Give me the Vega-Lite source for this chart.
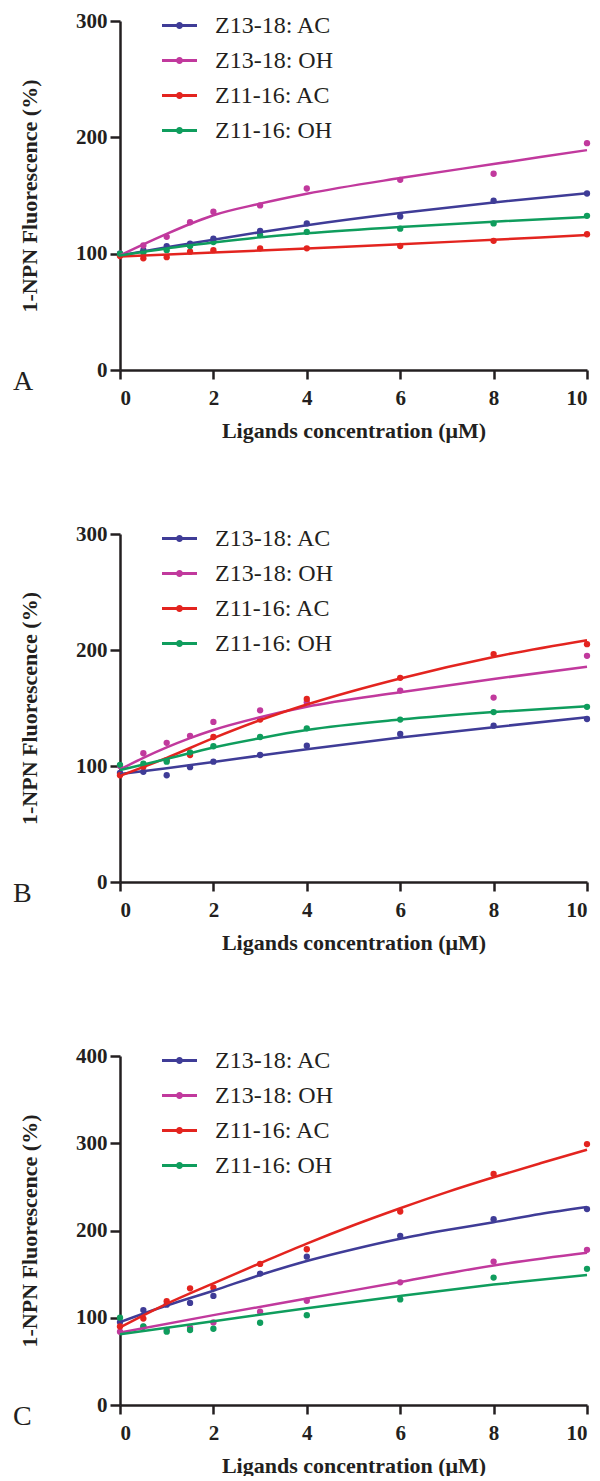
{
  "$schema": "https://vega.github.io/schema/vega-lite/v6.json",
  "background": "white",
  "padding": {"top": 8, "left": 13, "right": 8, "bottom": 0},
  "config": {
    "view": {"stroke": null},
    "axis": {
      "grid": false,
      "domainColor": "#231f20", "domainWidth": 2.5,
      "tickColor": "#231f20", "tickWidth": 2.5, "tickSize": 9,
      "labelFont": "Liberation Serif", "labelFontWeight": "bold", "labelFontSize": 21, "labelColor": "#231f20",
      "titleFont": "Liberation Serif", "titleFontWeight": "bold", "titleFontSize": 22, "titleColor": "#231f20"
    },
    "legend": {
      "orient": "none", "legendX": 42, "legendY": -13,
      "labelFont": "Liberation Serif", "labelFontSize": 24, "labelColor": "#231f20",
      "symbolType": "M-1,-0.086L1,-0.086L1,0.086L-1,0.086Z M0.2,0A0.2,0.2 0 1,1 -0.2,0A0.2,0.2 0 1,1 0.2,0Z",
      "symbolSize": 1225, "symbolStrokeWidth": 0, "labelOffset": 18, "rowPadding": 5
    },
    "title": {"font": "Liberation Serif", "fontSize": 28, "fontWeight": "normal", "color": "#231f20"}
  },
  "datasets": {
    "obs": [
      {"panel": "A", "series": "Z13-18: AC", "conc": 0, "value": 100},
      {"panel": "A", "series": "Z13-18: AC", "conc": 0.5, "value": 103},
      {"panel": "A", "series": "Z13-18: AC", "conc": 1, "value": 106.5},
      {"panel": "A", "series": "Z13-18: AC", "conc": 1.5, "value": 108.5},
      {"panel": "A", "series": "Z13-18: AC", "conc": 2, "value": 113},
      {"panel": "A", "series": "Z13-18: AC", "conc": 3, "value": 119.5},
      {"panel": "A", "series": "Z13-18: AC", "conc": 4, "value": 126},
      {"panel": "A", "series": "Z13-18: AC", "conc": 6, "value": 132},
      {"panel": "A", "series": "Z13-18: AC", "conc": 8, "value": 145.5},
      {"panel": "A", "series": "Z13-18: AC", "conc": 10, "value": 151.7},
      {"panel": "A", "series": "Z13-18: OH", "conc": 0, "value": 100},
      {"panel": "A", "series": "Z13-18: OH", "conc": 0.5, "value": 107},
      {"panel": "A", "series": "Z13-18: OH", "conc": 1, "value": 114.5},
      {"panel": "A", "series": "Z13-18: OH", "conc": 1.5, "value": 127},
      {"panel": "A", "series": "Z13-18: OH", "conc": 2, "value": 136},
      {"panel": "A", "series": "Z13-18: OH", "conc": 3, "value": 141.5},
      {"panel": "A", "series": "Z13-18: OH", "conc": 4, "value": 156},
      {"panel": "A", "series": "Z13-18: OH", "conc": 6, "value": 163.5},
      {"panel": "A", "series": "Z13-18: OH", "conc": 8, "value": 168.7},
      {"panel": "A", "series": "Z13-18: OH", "conc": 10, "value": 195},
      {"panel": "A", "series": "Z11-16: AC", "conc": 0, "value": 98},
      {"panel": "A", "series": "Z11-16: AC", "conc": 0.5, "value": 96},
      {"panel": "A", "series": "Z11-16: AC", "conc": 1, "value": 97},
      {"panel": "A", "series": "Z11-16: AC", "conc": 1.5, "value": 101.7},
      {"panel": "A", "series": "Z11-16: AC", "conc": 2, "value": 103},
      {"panel": "A", "series": "Z11-16: AC", "conc": 3, "value": 104.6},
      {"panel": "A", "series": "Z11-16: AC", "conc": 4, "value": 104.6},
      {"panel": "A", "series": "Z11-16: AC", "conc": 6, "value": 106.6},
      {"panel": "A", "series": "Z11-16: AC", "conc": 8, "value": 111},
      {"panel": "A", "series": "Z11-16: AC", "conc": 10, "value": 116.7},
      {"panel": "A", "series": "Z11-16: OH", "conc": 0, "value": 100},
      {"panel": "A", "series": "Z11-16: OH", "conc": 0.5, "value": 101},
      {"panel": "A", "series": "Z11-16: OH", "conc": 1, "value": 103},
      {"panel": "A", "series": "Z11-16: OH", "conc": 1.5, "value": 106.6},
      {"panel": "A", "series": "Z11-16: OH", "conc": 2, "value": 110},
      {"panel": "A", "series": "Z11-16: OH", "conc": 3, "value": 116},
      {"panel": "A", "series": "Z11-16: OH", "conc": 4, "value": 118.7},
      {"panel": "A", "series": "Z11-16: OH", "conc": 6, "value": 121.5},
      {"panel": "A", "series": "Z11-16: OH", "conc": 8, "value": 126},
      {"panel": "A", "series": "Z11-16: OH", "conc": 10, "value": 132.5},

      {"panel": "B", "series": "Z13-18: AC", "conc": 0, "value": 94},
      {"panel": "B", "series": "Z13-18: AC", "conc": 0.5, "value": 95},
      {"panel": "B", "series": "Z13-18: AC", "conc": 1, "value": 92},
      {"panel": "B", "series": "Z13-18: AC", "conc": 1.5, "value": 99},
      {"panel": "B", "series": "Z13-18: AC", "conc": 2, "value": 103.7},
      {"panel": "B", "series": "Z13-18: AC", "conc": 3, "value": 109.5},
      {"panel": "B", "series": "Z13-18: AC", "conc": 4, "value": 117.5},
      {"panel": "B", "series": "Z13-18: AC", "conc": 6, "value": 127.6},
      {"panel": "B", "series": "Z13-18: AC", "conc": 8, "value": 134.8},
      {"panel": "B", "series": "Z13-18: AC", "conc": 10, "value": 140.5},
      {"panel": "B", "series": "Z13-18: OH", "conc": 0, "value": 100},
      {"panel": "B", "series": "Z13-18: OH", "conc": 0.5, "value": 111},
      {"panel": "B", "series": "Z13-18: OH", "conc": 1, "value": 120},
      {"panel": "B", "series": "Z13-18: OH", "conc": 1.5, "value": 126},
      {"panel": "B", "series": "Z13-18: OH", "conc": 2, "value": 138},
      {"panel": "B", "series": "Z13-18: OH", "conc": 3, "value": 148},
      {"panel": "B", "series": "Z13-18: OH", "conc": 4, "value": 155},
      {"panel": "B", "series": "Z13-18: OH", "conc": 6, "value": 165},
      {"panel": "B", "series": "Z13-18: OH", "conc": 8, "value": 159},
      {"panel": "B", "series": "Z13-18: OH", "conc": 10, "value": 195},
      {"panel": "B", "series": "Z11-16: AC", "conc": 0, "value": 92},
      {"panel": "B", "series": "Z11-16: AC", "conc": 0.5, "value": 99.4},
      {"panel": "B", "series": "Z11-16: AC", "conc": 1, "value": 105},
      {"panel": "B", "series": "Z11-16: AC", "conc": 1.5, "value": 109.5},
      {"panel": "B", "series": "Z11-16: AC", "conc": 2, "value": 125},
      {"panel": "B", "series": "Z11-16: AC", "conc": 3, "value": 140},
      {"panel": "B", "series": "Z11-16: AC", "conc": 4, "value": 157.8},
      {"panel": "B", "series": "Z11-16: AC", "conc": 6, "value": 176},
      {"panel": "B", "series": "Z11-16: AC", "conc": 8, "value": 196.5},
      {"panel": "B", "series": "Z11-16: AC", "conc": 10, "value": 205},
      {"panel": "B", "series": "Z11-16: OH", "conc": 0, "value": 101},
      {"panel": "B", "series": "Z11-16: OH", "conc": 0.5, "value": 102},
      {"panel": "B", "series": "Z11-16: OH", "conc": 1, "value": 103.7},
      {"panel": "B", "series": "Z11-16: OH", "conc": 1.5, "value": 111.8},
      {"panel": "B", "series": "Z11-16: OH", "conc": 2, "value": 117},
      {"panel": "B", "series": "Z11-16: OH", "conc": 3, "value": 125},
      {"panel": "B", "series": "Z11-16: OH", "conc": 4, "value": 132.5},
      {"panel": "B", "series": "Z11-16: OH", "conc": 6, "value": 140},
      {"panel": "B", "series": "Z11-16: OH", "conc": 8, "value": 146.5},
      {"panel": "B", "series": "Z11-16: OH", "conc": 10, "value": 151},

      {"panel": "C", "series": "Z13-18: AC", "conc": 0, "value": 95},
      {"panel": "C", "series": "Z13-18: AC", "conc": 0.5, "value": 108.8},
      {"panel": "C", "series": "Z13-18: AC", "conc": 1, "value": 115},
      {"panel": "C", "series": "Z13-18: AC", "conc": 1.5, "value": 117},
      {"panel": "C", "series": "Z13-18: AC", "conc": 2, "value": 125},
      {"panel": "C", "series": "Z13-18: AC", "conc": 3, "value": 150.6},
      {"panel": "C", "series": "Z13-18: AC", "conc": 4, "value": 170},
      {"panel": "C", "series": "Z13-18: AC", "conc": 6, "value": 193.9},
      {"panel": "C", "series": "Z13-18: AC", "conc": 8, "value": 213},
      {"panel": "C", "series": "Z13-18: AC", "conc": 10, "value": 224.5},
      {"panel": "C", "series": "Z13-18: OH", "conc": 0, "value": 84},
      {"panel": "C", "series": "Z13-18: OH", "conc": 0.5, "value": 89.7},
      {"panel": "C", "series": "Z13-18: OH", "conc": 1, "value": 86},
      {"panel": "C", "series": "Z13-18: OH", "conc": 1.5, "value": 88.5},
      {"panel": "C", "series": "Z13-18: OH", "conc": 2, "value": 94.6},
      {"panel": "C", "series": "Z13-18: OH", "conc": 3, "value": 107},
      {"panel": "C", "series": "Z13-18: OH", "conc": 4, "value": 119.5},
      {"panel": "C", "series": "Z13-18: OH", "conc": 6, "value": 140.6},
      {"panel": "C", "series": "Z13-18: OH", "conc": 8, "value": 164.4},
      {"panel": "C", "series": "Z13-18: OH", "conc": 10, "value": 177.8},
      {"panel": "C", "series": "Z11-16: AC", "conc": 0, "value": 90},
      {"panel": "C", "series": "Z11-16: AC", "conc": 0.5, "value": 99},
      {"panel": "C", "series": "Z11-16: AC", "conc": 1, "value": 119},
      {"panel": "C", "series": "Z11-16: AC", "conc": 1.5, "value": 133.7},
      {"panel": "C", "series": "Z11-16: AC", "conc": 2, "value": 134.5},
      {"panel": "C", "series": "Z11-16: AC", "conc": 3, "value": 161.7},
      {"panel": "C", "series": "Z11-16: AC", "conc": 4, "value": 178.5},
      {"panel": "C", "series": "Z11-16: AC", "conc": 6, "value": 221.8},
      {"panel": "C", "series": "Z11-16: AC", "conc": 8, "value": 264.8},
      {"panel": "C", "series": "Z11-16: AC", "conc": 10, "value": 299},
      {"panel": "C", "series": "Z11-16: OH", "conc": 0, "value": 100},
      {"panel": "C", "series": "Z11-16: OH", "conc": 0.5, "value": 90},
      {"panel": "C", "series": "Z11-16: OH", "conc": 1, "value": 84},
      {"panel": "C", "series": "Z11-16: OH", "conc": 1.5, "value": 86},
      {"panel": "C", "series": "Z11-16: OH", "conc": 2, "value": 87.4},
      {"panel": "C", "series": "Z11-16: OH", "conc": 3, "value": 94.3},
      {"panel": "C", "series": "Z11-16: OH", "conc": 4, "value": 103},
      {"panel": "C", "series": "Z11-16: OH", "conc": 6, "value": 121},
      {"panel": "C", "series": "Z11-16: OH", "conc": 8, "value": 146},
      {"panel": "C", "series": "Z11-16: OH", "conc": 10, "value": 156}
    ],
    "fit": [
      {"panel": "A", "series": "Z13-18: AC", "conc": 0, "value": 98.5},
      {"panel": "A", "series": "Z13-18: AC", "conc": 1, "value": 105.5},
      {"panel": "A", "series": "Z13-18: AC", "conc": 2, "value": 112},
      {"panel": "A", "series": "Z13-18: AC", "conc": 3, "value": 118.5},
      {"panel": "A", "series": "Z13-18: AC", "conc": 4, "value": 124.5},
      {"panel": "A", "series": "Z13-18: AC", "conc": 6, "value": 135},
      {"panel": "A", "series": "Z13-18: AC", "conc": 8, "value": 144},
      {"panel": "A", "series": "Z13-18: AC", "conc": 10, "value": 152},
      {"panel": "A", "series": "Z13-18: OH", "conc": 0, "value": 98.5},
      {"panel": "A", "series": "Z13-18: OH", "conc": 0.5, "value": 108},
      {"panel": "A", "series": "Z13-18: OH", "conc": 1, "value": 117},
      {"panel": "A", "series": "Z13-18: OH", "conc": 1.5, "value": 125.5},
      {"panel": "A", "series": "Z13-18: OH", "conc": 2, "value": 133},
      {"panel": "A", "series": "Z13-18: OH", "conc": 3, "value": 143},
      {"panel": "A", "series": "Z13-18: OH", "conc": 4, "value": 151.5},
      {"panel": "A", "series": "Z13-18: OH", "conc": 6, "value": 165},
      {"panel": "A", "series": "Z13-18: OH", "conc": 8, "value": 177},
      {"panel": "A", "series": "Z13-18: OH", "conc": 10, "value": 189},
      {"panel": "A", "series": "Z11-16: AC", "conc": 0, "value": 97.5},
      {"panel": "A", "series": "Z11-16: AC", "conc": 2, "value": 101},
      {"panel": "A", "series": "Z11-16: AC", "conc": 4, "value": 104.5},
      {"panel": "A", "series": "Z11-16: AC", "conc": 6, "value": 108},
      {"panel": "A", "series": "Z11-16: AC", "conc": 8, "value": 112},
      {"panel": "A", "series": "Z11-16: AC", "conc": 10, "value": 116},
      {"panel": "A", "series": "Z11-16: OH", "conc": 0, "value": 98.5},
      {"panel": "A", "series": "Z11-16: OH", "conc": 1, "value": 104.5},
      {"panel": "A", "series": "Z11-16: OH", "conc": 2, "value": 109.5},
      {"panel": "A", "series": "Z11-16: OH", "conc": 3, "value": 114},
      {"panel": "A", "series": "Z11-16: OH", "conc": 4, "value": 117.5},
      {"panel": "A", "series": "Z11-16: OH", "conc": 6, "value": 123},
      {"panel": "A", "series": "Z11-16: OH", "conc": 8, "value": 127.5},
      {"panel": "A", "series": "Z11-16: OH", "conc": 10, "value": 131.5},

      {"panel": "B", "series": "Z13-18: AC", "conc": 0, "value": 93},
      {"panel": "B", "series": "Z13-18: AC", "conc": 1, "value": 98},
      {"panel": "B", "series": "Z13-18: AC", "conc": 2, "value": 103.5},
      {"panel": "B", "series": "Z13-18: AC", "conc": 3, "value": 109},
      {"panel": "B", "series": "Z13-18: AC", "conc": 4, "value": 114.5},
      {"panel": "B", "series": "Z13-18: AC", "conc": 6, "value": 124.5},
      {"panel": "B", "series": "Z13-18: AC", "conc": 8, "value": 133.5},
      {"panel": "B", "series": "Z13-18: AC", "conc": 10, "value": 142},
      {"panel": "B", "series": "Z13-18: OH", "conc": 0, "value": 97},
      {"panel": "B", "series": "Z13-18: OH", "conc": 0.5, "value": 107},
      {"panel": "B", "series": "Z13-18: OH", "conc": 1, "value": 116},
      {"panel": "B", "series": "Z13-18: OH", "conc": 1.5, "value": 124},
      {"panel": "B", "series": "Z13-18: OH", "conc": 2, "value": 131},
      {"panel": "B", "series": "Z13-18: OH", "conc": 3, "value": 142},
      {"panel": "B", "series": "Z13-18: OH", "conc": 4, "value": 151},
      {"panel": "B", "series": "Z13-18: OH", "conc": 6, "value": 163.5},
      {"panel": "B", "series": "Z13-18: OH", "conc": 8, "value": 175},
      {"panel": "B", "series": "Z13-18: OH", "conc": 10, "value": 185.5},
      {"panel": "B", "series": "Z11-16: AC", "conc": 0, "value": 91.5},
      {"panel": "B", "series": "Z11-16: AC", "conc": 1, "value": 107},
      {"panel": "B", "series": "Z11-16: AC", "conc": 2, "value": 124},
      {"panel": "B", "series": "Z11-16: AC", "conc": 3, "value": 139.5},
      {"panel": "B", "series": "Z11-16: AC", "conc": 4, "value": 153},
      {"panel": "B", "series": "Z11-16: AC", "conc": 6, "value": 175.5},
      {"panel": "B", "series": "Z11-16: AC", "conc": 8, "value": 194},
      {"panel": "B", "series": "Z11-16: AC", "conc": 10, "value": 208.5},
      {"panel": "B", "series": "Z11-16: OH", "conc": 0, "value": 96.5},
      {"panel": "B", "series": "Z11-16: OH", "conc": 1, "value": 106},
      {"panel": "B", "series": "Z11-16: OH", "conc": 2, "value": 116},
      {"panel": "B", "series": "Z11-16: OH", "conc": 3, "value": 124},
      {"panel": "B", "series": "Z11-16: OH", "conc": 4, "value": 131},
      {"panel": "B", "series": "Z11-16: OH", "conc": 6, "value": 140},
      {"panel": "B", "series": "Z11-16: OH", "conc": 8, "value": 146.5},
      {"panel": "B", "series": "Z11-16: OH", "conc": 10, "value": 151.5},

      {"panel": "C", "series": "Z13-18: AC", "conc": 0, "value": 95},
      {"panel": "C", "series": "Z13-18: AC", "conc": 1, "value": 114},
      {"panel": "C", "series": "Z13-18: AC", "conc": 2, "value": 131},
      {"panel": "C", "series": "Z13-18: AC", "conc": 3, "value": 149},
      {"panel": "C", "series": "Z13-18: AC", "conc": 4, "value": 165},
      {"panel": "C", "series": "Z13-18: AC", "conc": 5, "value": 178.5},
      {"panel": "C", "series": "Z13-18: AC", "conc": 6, "value": 190.5},
      {"panel": "C", "series": "Z13-18: AC", "conc": 7, "value": 200.5},
      {"panel": "C", "series": "Z13-18: AC", "conc": 8, "value": 209.5},
      {"panel": "C", "series": "Z13-18: AC", "conc": 9, "value": 219},
      {"panel": "C", "series": "Z13-18: AC", "conc": 10, "value": 227},
      {"panel": "C", "series": "Z13-18: OH", "conc": 0, "value": 83},
      {"panel": "C", "series": "Z13-18: OH", "conc": 2, "value": 103},
      {"panel": "C", "series": "Z13-18: OH", "conc": 4, "value": 122},
      {"panel": "C", "series": "Z13-18: OH", "conc": 6, "value": 141},
      {"panel": "C", "series": "Z13-18: OH", "conc": 8, "value": 160},
      {"panel": "C", "series": "Z13-18: OH", "conc": 10, "value": 174.5},
      {"panel": "C", "series": "Z11-16: AC", "conc": 0, "value": 89},
      {"panel": "C", "series": "Z11-16: AC", "conc": 1, "value": 116},
      {"panel": "C", "series": "Z11-16: AC", "conc": 2, "value": 139.5},
      {"panel": "C", "series": "Z11-16: AC", "conc": 3, "value": 162.5},
      {"panel": "C", "series": "Z11-16: AC", "conc": 4, "value": 185},
      {"panel": "C", "series": "Z11-16: AC", "conc": 5, "value": 206},
      {"panel": "C", "series": "Z11-16: AC", "conc": 6, "value": 225.5},
      {"panel": "C", "series": "Z11-16: AC", "conc": 7, "value": 244},
      {"panel": "C", "series": "Z11-16: AC", "conc": 8, "value": 261},
      {"panel": "C", "series": "Z11-16: AC", "conc": 9, "value": 277},
      {"panel": "C", "series": "Z11-16: AC", "conc": 10, "value": 292.5},
      {"panel": "C", "series": "Z11-16: OH", "conc": 0, "value": 81},
      {"panel": "C", "series": "Z11-16: OH", "conc": 2, "value": 96},
      {"panel": "C", "series": "Z11-16: OH", "conc": 4, "value": 111},
      {"panel": "C", "series": "Z11-16: OH", "conc": 6, "value": 125},
      {"panel": "C", "series": "Z11-16: OH", "conc": 8, "value": 138},
      {"panel": "C", "series": "Z11-16: OH", "conc": 10, "value": 149}
    ]
  },
  "resolve": {"scale": {"color": "independent"}, "legend": {"color": "independent"}},
  "spacing": 90,
  "vconcat": [
    {
      "resolve": {"scale": {"color": "independent"}, "legend": {"color": "independent"}},
      "spacing": 80,
      "vconcat": [
        {
          "width": 467, "height": 349,
          "title": {"text": "A", "orient": "bottom", "anchor": "start", "frame": "group", "dx": -107, "dy": -77},
          "layer": [
            {
              "data": {"name": "obs"},
              "transform": [{"filter": "datum.panel === 'A'"}],
              "mark": {"type": "point", "filled": true, "size": 40, "opacity": 1},
              "encoding": {
                "x": {"field": "conc", "type": "quantitative", "scale": {"domain": [0, 10], "nice": false}, "axis": {"values": [0, 2, 4, 6, 8, 10], "title": "Ligands concentration (μM)", "titlePadding": 12, "labelPadding": 8}},
                "y": {"field": "value", "type": "quantitative", "scale": {"domain": [0, 300], "nice": false}, "axis": {"values": [0, 100, 200, 300], "title": "1-NPN Fluorescence (%)", "titlePadding": 34, "tickSize": 10, "labelPadding": 3}},
                "color": {"field": "series", "type": "nominal", "scale": {"domain": ["Z13-18: AC", "Z13-18: OH", "Z11-16: AC", "Z11-16: OH"], "range": ["#3f3c97", "#c1399d", "#e3241f", "#0f9d5d"]}, "legend": {"title": null}}
              }
            },
            {
              "data": {"name": "fit"},
              "transform": [{"filter": "datum.panel === 'A'"}],
              "mark": {"type": "line", "interpolate": "monotone", "strokeWidth": 2.5},
              "encoding": {
                "x": {"field": "conc", "type": "quantitative"},
                "y": {"field": "value", "type": "quantitative"},
                "color": {"field": "series", "type": "nominal", "legend": null}
              }
            }
          ]
        },
        {
          "width": 467, "height": 348,
          "title": {"text": "B", "orient": "bottom", "anchor": "start", "frame": "group", "dx": -107, "dy": -77},
          "layer": [
            {
              "data": {"name": "obs"},
              "transform": [{"filter": "datum.panel === 'B'"}],
              "mark": {"type": "point", "filled": true, "size": 40, "opacity": 1},
              "encoding": {
                "x": {"field": "conc", "type": "quantitative", "scale": {"domain": [0, 10], "nice": false}, "axis": {"values": [0, 2, 4, 6, 8, 10], "title": "Ligands concentration (μM)", "titlePadding": 12, "labelPadding": 8}},
                "y": {"field": "value", "type": "quantitative", "scale": {"domain": [0, 300], "nice": false}, "axis": {"values": [0, 100, 200, 300], "title": "1-NPN Fluorescence (%)", "titlePadding": 34, "tickSize": 10, "labelPadding": 3}},
                "color": {"field": "series", "type": "nominal", "scale": {"domain": ["Z13-18: AC", "Z13-18: OH", "Z11-16: AC", "Z11-16: OH"], "range": ["#3f3c97", "#c1399d", "#e3241f", "#0f9d5d"]}, "legend": {"title": null}}
              }
            },
            {
              "data": {"name": "fit"},
              "transform": [{"filter": "datum.panel === 'B'"}],
              "mark": {"type": "line", "interpolate": "monotone", "strokeWidth": 2.5},
              "encoding": {
                "x": {"field": "conc", "type": "quantitative"},
                "y": {"field": "value", "type": "quantitative"},
                "color": {"field": "series", "type": "nominal", "legend": null}
              }
            }
          ]
        }
      ]
    },
    {
      "width": 467, "height": 349,
      "title": {"text": "C", "orient": "bottom", "anchor": "start", "frame": "group", "dx": -107, "dy": -77},
      "layer": [
        {
          "data": {"name": "obs"},
          "transform": [{"filter": "datum.panel === 'C'"}],
          "mark": {"type": "point", "filled": true, "size": 40, "opacity": 1},
          "encoding": {
            "x": {"field": "conc", "type": "quantitative", "scale": {"domain": [0, 10], "nice": false}, "axis": {"values": [0, 2, 4, 6, 8, 10], "title": "Ligands concentration (μM)", "titlePadding": 12, "labelPadding": 8}},
            "y": {"field": "value", "type": "quantitative", "scale": {"domain": [0, 400], "nice": false}, "axis": {"values": [0, 100, 200, 300, 400], "title": "1-NPN Fluorescence (%)", "titlePadding": 34, "tickSize": 10, "labelPadding": 3}},
            "color": {"field": "series", "type": "nominal", "scale": {"domain": ["Z13-18: AC", "Z13-18: OH", "Z11-16: AC", "Z11-16: OH"], "range": ["#3f3c97", "#c1399d", "#e3241f", "#0f9d5d"]}, "legend": {"title": null}}
          }
        },
        {
          "data": {"name": "fit"},
          "transform": [{"filter": "datum.panel === 'C'"}],
          "mark": {"type": "line", "interpolate": "monotone", "strokeWidth": 2.5},
          "encoding": {
            "x": {"field": "conc", "type": "quantitative"},
            "y": {"field": "value", "type": "quantitative"},
            "color": {"field": "series", "type": "nominal", "legend": null}
          }
        }
      ]
    }
  ]
}
